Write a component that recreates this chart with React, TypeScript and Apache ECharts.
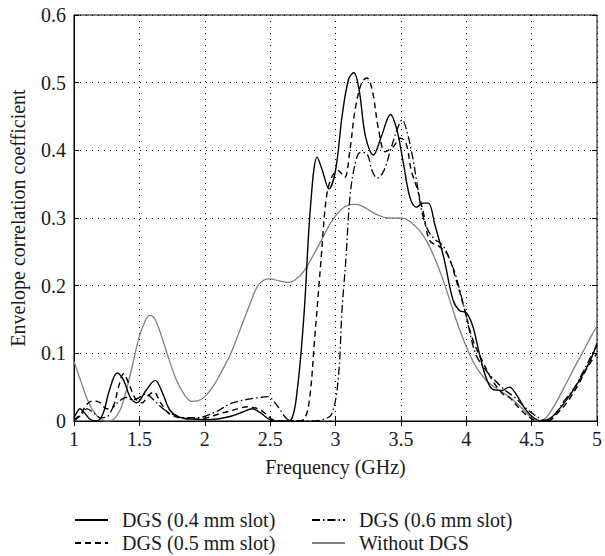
import React, { useEffect, useRef } from "react";
import * as echarts from "echarts";

const xTicks = [1, 1.5, 2, 2.5, 3, 3.5, 4, 4.5, 5];
const yTicks = [0, 0.1, 0.2, 0.3, 0.4, 0.5, 0.6];

const seriesNames = ["DGS (0.4 mm slot)", "DGS (0.5 mm slot)", "DGS (0.6 mm slot)", "Without DGS"];

const f04 = [1.0, 1.02, 1.045, 1.08, 1.12, 1.17, 1.22, 1.27, 1.33, 1.38, 1.43, 1.48, 1.55, 1.62, 1.68, 1.73, 1.8, 1.9, 2.0, 2.1, 2.2, 2.3, 2.36, 2.42, 2.48, 2.53, 2.6, 2.66, 2.71, 2.76, 2.81, 2.86, 2.9, 2.95, 3.0, 3.05, 3.1, 3.14, 3.18, 3.23, 3.29, 3.35, 3.42, 3.47, 3.52, 3.57, 3.62, 3.67, 3.71, 3.76, 3.83, 3.9, 3.95, 4.0, 4.05, 4.1, 4.15, 4.2, 4.27, 4.33, 4.38, 4.45, 4.52, 4.58, 4.65, 4.73, 4.8, 4.88, 4.95, 5.0];
const v04 = [0.005, 0.012, 0.018, 0.012, 0.003, 0.0, 0.01, 0.045, 0.071, 0.06, 0.035, 0.027, 0.045, 0.06, 0.04, 0.017, 0.006, 0.003, 0.002, 0.003, 0.007, 0.014, 0.018, 0.013, 0.004, 0.0, 0.0, 0.002, 0.05, 0.16, 0.32, 0.39, 0.37, 0.343, 0.37, 0.45, 0.505, 0.515, 0.49, 0.42, 0.393, 0.42, 0.453, 0.43, 0.38, 0.33, 0.316, 0.322, 0.322, 0.29, 0.24, 0.178, 0.163, 0.16, 0.14, 0.1, 0.065, 0.047, 0.045, 0.05, 0.04, 0.018, 0.004, 0.0, 0.005, 0.022, 0.04, 0.065, 0.09, 0.115];

const f05 = [1.0, 1.05, 1.1, 1.15, 1.2, 1.25, 1.3, 1.34, 1.38, 1.42, 1.47, 1.52, 1.57, 1.61, 1.66, 1.72, 1.8, 1.9, 2.0, 2.1, 2.2, 2.33, 2.42, 2.47, 2.52, 2.6, 2.7, 2.76, 2.8, 2.84, 2.89, 2.93, 2.97, 3.02, 3.07, 3.11, 3.15, 3.2, 3.24, 3.28, 3.33, 3.38, 3.44, 3.5, 3.54, 3.58, 3.63, 3.67, 3.72, 3.8, 3.86, 3.92, 3.98, 4.05, 4.12, 4.2, 4.28, 4.33, 4.4, 4.48, 4.55, 4.62, 4.7, 4.78, 4.86, 4.93, 5.0];
const v05 = [0.002, 0.01, 0.025, 0.03, 0.027, 0.018, 0.022, 0.05, 0.07, 0.055, 0.033, 0.027, 0.038, 0.043, 0.028, 0.012, 0.005, 0.003, 0.004, 0.01, 0.015, 0.021, 0.017, 0.01, 0.002, 0.0, 0.0, 0.003, 0.03, 0.12, 0.24, 0.33, 0.36, 0.37, 0.36, 0.4, 0.46, 0.5, 0.507, 0.49, 0.43, 0.398, 0.405, 0.418, 0.41, 0.37, 0.34, 0.31, 0.267, 0.257, 0.245, 0.21, 0.17, 0.12, 0.09, 0.06, 0.04, 0.035, 0.02, 0.006, 0.0, 0.0, 0.012, 0.03, 0.055, 0.08, 0.1];

const f06 = [1.0, 1.05, 1.1, 1.15, 1.2, 1.25, 1.3, 1.35, 1.4, 1.45, 1.5, 1.55, 1.6, 1.67, 1.75, 1.85, 1.95, 2.03, 2.1, 2.2, 2.3, 2.39, 2.48, 2.56, 2.63, 2.7, 2.8, 2.9, 2.97, 3.02, 3.05, 3.08, 3.11, 3.15, 3.19, 3.24, 3.28, 3.32, 3.37, 3.42, 3.47, 3.51, 3.55, 3.59, 3.62, 3.66, 3.7, 3.75, 3.82, 3.87, 3.92, 4.0, 4.07, 4.15, 4.23, 4.3, 4.37, 4.45, 4.5, 4.58, 4.63, 4.68, 4.75, 4.83, 4.9, 4.98, 5.0];
const v06 = [0.0, 0.008, 0.018, 0.012, 0.005, 0.006, 0.02, 0.03, 0.035, 0.031, 0.035, 0.04, 0.033, 0.02, 0.01, 0.005, 0.005, 0.009, 0.015, 0.026, 0.031, 0.034, 0.036, 0.021, 0.003, 0.0, 0.0, 0.002, 0.01, 0.06, 0.165, 0.24, 0.33, 0.38, 0.397, 0.395, 0.37, 0.359, 0.37, 0.4, 0.43, 0.445, 0.425, 0.39, 0.355, 0.31, 0.285, 0.27, 0.26, 0.24, 0.215, 0.155, 0.1, 0.075, 0.058, 0.045, 0.035, 0.02, 0.012, 0.002, 0.0, 0.01, 0.03, 0.05, 0.075, 0.105, 0.11];

const fNo = [1.0, 1.05, 1.1, 1.15, 1.2, 1.25, 1.3, 1.35, 1.4, 1.45, 1.5, 1.55, 1.58, 1.62, 1.67, 1.72, 1.78, 1.84, 1.9, 1.95, 2.0, 2.06, 2.12, 2.2, 2.27, 2.34, 2.4, 2.45, 2.5, 2.57, 2.64, 2.7, 2.76, 2.83, 2.9, 2.97, 3.04, 3.1, 3.15, 3.2, 3.27, 3.33, 3.4, 3.47, 3.53, 3.58, 3.64, 3.7, 3.76, 3.82, 3.88, 3.94, 4.0, 4.06, 4.13, 4.2, 4.28, 4.35, 4.42, 4.48, 4.53, 4.57, 4.62, 4.68, 4.75, 4.83, 4.9, 4.96, 5.0];
const vNo = [0.088, 0.06, 0.033, 0.014, 0.004, 0.0, 0.002, 0.015, 0.045, 0.085, 0.125, 0.15, 0.156, 0.15, 0.125, 0.095, 0.062, 0.04, 0.029, 0.03, 0.036, 0.05, 0.07, 0.1, 0.135, 0.17, 0.198, 0.208, 0.21, 0.207, 0.205, 0.21, 0.222, 0.245, 0.27, 0.295, 0.312, 0.319, 0.32, 0.318, 0.31, 0.304, 0.3, 0.3, 0.299, 0.293, 0.282, 0.265, 0.24, 0.21, 0.175, 0.14, 0.11, 0.085, 0.065, 0.052, 0.042, 0.032, 0.02, 0.008, 0.001, 0.0, 0.007, 0.025, 0.05, 0.08, 0.105, 0.127, 0.14];

const FONT = "Liberation Serif";
const FS = 20;
const TXT = "#1a1a1a";

function pairs(xs: number[], ys: number[]) {
  return xs.map((x, i) => [x, ys[i]]);
}

export default function App() {
  const ref = useRef<HTMLDivElement>(null);
  useEffect(() => {
    if (!ref.current) return;
    const chart = echarts.init(ref.current, undefined, { renderer: "svg" });
    const fmt = (v: number) => (Math.abs(v) < 1e-9 ? "0" : String(Math.round(v * 10) / 10));
    const mkLine = (name: string, xs: number[], ys: number[], color: string, type: any, width: number) => ({
      name,
      type: "line",
      data: pairs(xs, ys),
      smooth: 0.35,
      symbol: "none",
      clip: true,
      lineStyle: { color, type, width },
      itemStyle: { color },
    });
    const mkLegend = (name: string, left: number, top: number) => ({
      data: [name],
      orient: "horizontal",
      left,
      top,
      itemWidth: 33,
      itemHeight: 14,
      padding: 0,
      itemStyle: { color: "transparent", borderWidth: 0, opacity: 0 },
      textStyle: { fontFamily: FONT, fontSize: FS, color: TXT, padding: [0, 0, 0, 9] },
    });
    chart.setOption({
      animation: false,
      backgroundColor: "#ffffff",
      textStyle: { fontFamily: FONT },
      grid: { left: 74, right: 3, top: 15, bottom: 135, show: true, borderColor: "#000", borderWidth: 1 },
      xAxis: [
        {
          type: "value",
          min: 1,
          max: 5,
          interval: 0.5,
          name: "Frequency (GHz)",
          nameLocation: "middle",
          nameGap: 36,
          nameTextStyle: { fontFamily: FONT, fontSize: FS, color: TXT },
          axisLine: { show: true, lineStyle: { color: "#000", width: 1 } },
          axisTick: { show: true, inside: true, length: 5, lineStyle: { color: "#000" } },
          axisLabel: { fontFamily: FONT, fontSize: FS, color: TXT, margin: 8, formatter: (v: number) => String(v) },
          splitLine: { show: true, lineStyle: { color: "#000", type: [1, 5], width: 1 } },
        },
        {
          type: "value",
          position: "top",
          min: 1,
          max: 5,
          interval: 0.5,
          axisLine: { show: false },
          axisTick: { show: true, inside: true, length: 5, lineStyle: { color: "#000" } },
          axisLabel: { show: false },
          splitLine: { show: false },
        },
      ],
      yAxis: [
        {
          type: "value",
          min: 0,
          max: 0.6,
          interval: 0.1,
          name: "Envelope correlation coefficient",
          nameLocation: "middle",
          nameGap: 46,
          nameTextStyle: { fontFamily: FONT, fontSize: FS, color: TXT },
          axisLine: { show: true, lineStyle: { color: "#000", width: 1 } },
          axisTick: { show: true, inside: true, length: 5, lineStyle: { color: "#000" } },
          axisLabel: { fontFamily: FONT, fontSize: FS, color: TXT, margin: 8, formatter: fmt },
          splitLine: { show: true, lineStyle: { color: "#000", type: [1, 5], width: 1 } },
        },
        {
          type: "value",
          position: "right",
          min: 0,
          max: 0.6,
          interval: 0.1,
          axisLine: { show: false },
          axisTick: { show: true, inside: true, length: 5, lineStyle: { color: "#000" } },
          axisLabel: { show: false },
          splitLine: { show: false },
        },
      ],
      legend: [
        mkLegend(seriesNames[0], 74, 510),
        mkLegend(seriesNames[1], 74, 533),
        mkLegend(seriesNames[2], 311, 510),
        mkLegend(seriesNames[3], 311, 533),
      ],
      series: [
        mkLine(seriesNames[3], fNo, vNo, "#808080", "solid", 1.3),
        mkLine(seriesNames[0], f04, v04, "#000000", "solid", 1.4),
        mkLine(seriesNames[1], f05, v05, "#000000", [6, 4], 1.4),
        mkLine(seriesNames[2], f06, v06, "#000000", [8, 3, 1.5, 3], 1.3),
      ],
    });
    return () => chart.dispose();
  }, []);
  return <div ref={ref} style={{ position: "fixed", left: 0, top: 0, width: 605, height: 556 }} />;
}
